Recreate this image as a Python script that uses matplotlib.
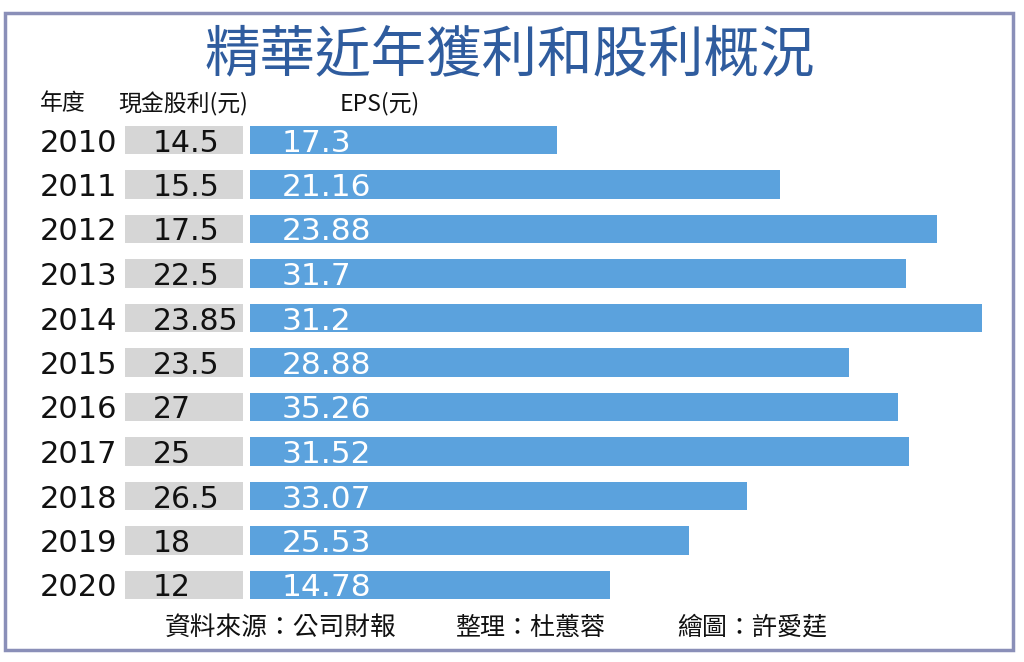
import matplotlib
matplotlib.use("Agg")
import matplotlib.pyplot as plt
from matplotlib.patches import Rectangle

plt.rcParams['font.family'] = ['Noto Sans CJK TC', 'DejaVu Sans']

# ---- data ----
years = ["2010", "2011", "2012", "2013", "2014", "2015", "2016", "2017", "2018", "2019", "2020"]
cash_dividend = ["14.5", "15.5", "17.5", "22.5", "23.85", "23.5", "27", "25", "26.5", "18", "12"]
eps = ["17.3", "21.16", "23.88", "31.7", "31.2", "28.88", "35.26", "31.52", "33.07", "25.53", "14.78"]
# drawn EPS bar lengths as they appear in the picture (arbitrary units)
eps_bar_len = [307, 530, 687, 656, 732, 599, 648, 659, 497, 439, 360]
dividend_cell_len = 118

title = "精華近年獲利和股利概況"
header_year = "年度"
header_div = "現金股利(元)"
header_eps = "EPS(元)"
credits = ["資料來源：公司財報", "整理：杜蕙蓉", "繪圖：許愛莛"]

W, H = 1024, 662
fig = plt.figure(figsize=(W / 100, H / 100), dpi=100)
fig.patch.set_facecolor("white")

# frame
fig.patches.append(Rectangle((5 / W, 1 - 650 / H), (1013 - 5) / W, (650 - 13) / H,
                             transform=fig.transFigure, fill=False,
                             edgecolor="#8a8fb8", linewidth=2.5))

# title
fig.text(510 / W, 1 - 56 / H, title, ha="center", va="center",
         fontsize=40, fontweight="medium", color="#2f5c9e")

# headers
hy = 1 - 104 / H
fig.text(40 / W, hy, header_year, ha="left", va="center", fontsize=16.5, color="#111111")
fig.text(118 / W, hy, header_div, ha="left", va="center", fontsize=16.5, color="#111111")
fig.text(340 / W, hy, header_eps, ha="left", va="center", fontsize=16.5, color="#111111")

# bars axes
ax_left, ax_right = 125, 1000
row0, step = 140, 44.5
n = len(years)
top = row0 - step / 2
bottom = row0 + (n - 1) * step + step / 2
ax = fig.add_axes([ax_left / W, 1 - bottom / H, (ax_right - ax_left) / W, (bottom - top) / H])
ax.set_xlim(0, ax_right - ax_left)
ax.set_ylim(n - 0.5, -0.5)
ax.axis("off")

ypos = list(range(n))
ax.barh(ypos, [dividend_cell_len] * n, left=0, height=0.64, color="#d6d6d6")
ax.barh(ypos, eps_bar_len, left=125, height=0.64, color="#5ba2dd")

for i in range(n):
    ax.text(40 - ax_left, i, years[i], ha="left", va="center_baseline",
            fontsize=22, color="#111111", family="DejaVu Sans", clip_on=False)
    ax.text(153 - ax_left, i, cash_dividend[i], ha="left", va="center_baseline",
            fontsize=21.5, color="#111111", family="DejaVu Sans", clip_on=False)
    ax.text(282 - ax_left, i, eps[i], ha="left", va="center_baseline",
            fontsize=22.5, color="white", family="DejaVu Sans", clip_on=False)

# credits
cy = 1 - 628 / H
fig.text(165 / W, cy, credits[0], ha="left", va="center", fontsize=18.5, color="#111111")
fig.text(455 / W, cy, credits[1], ha="left", va="center", fontsize=18, color="#111111")
fig.text(677 / W, cy, credits[2], ha="left", va="center", fontsize=18, color="#111111")

fig.savefig("out.png", dpi=100, facecolor="white")
